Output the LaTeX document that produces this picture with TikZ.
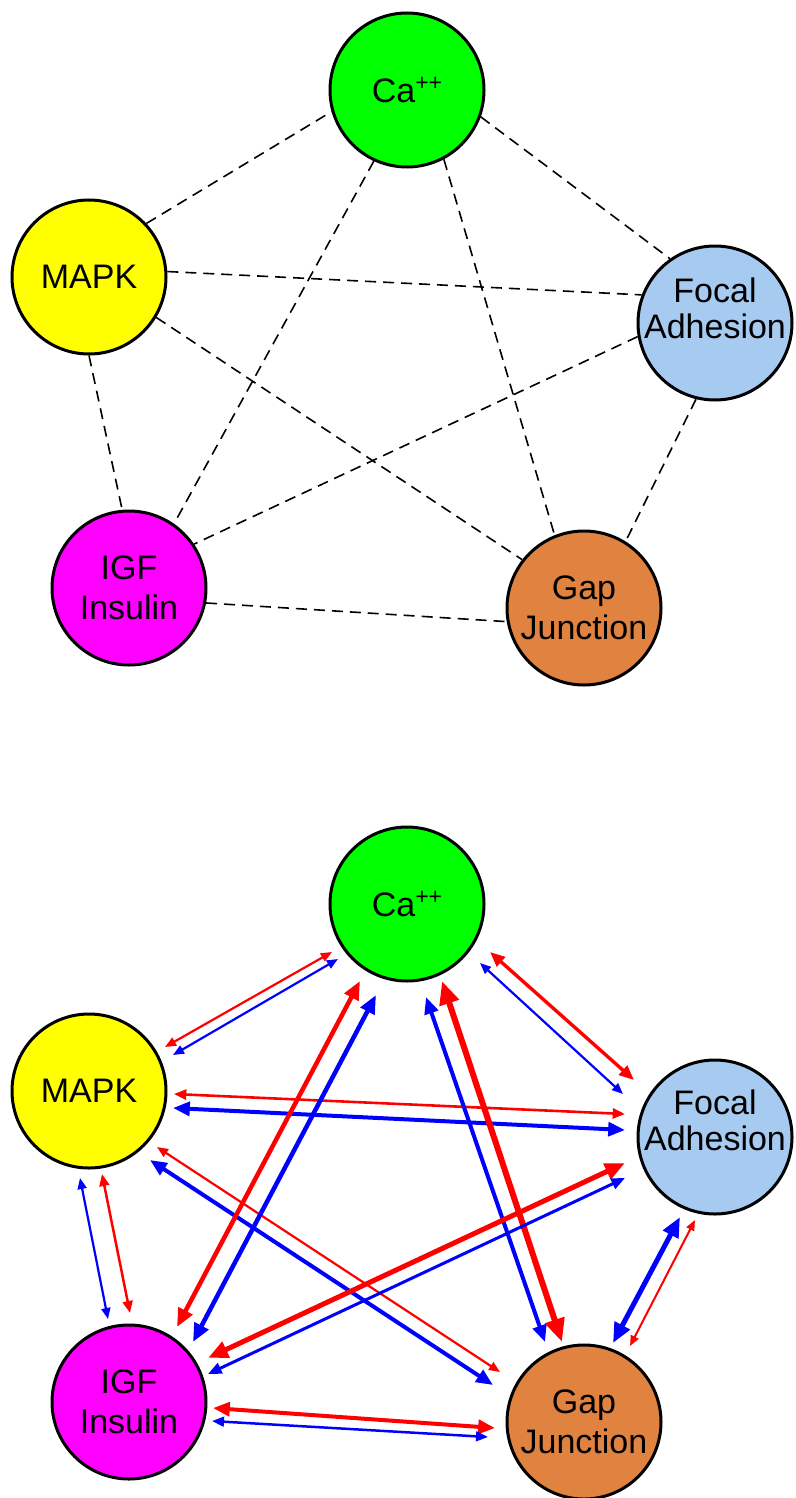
\documentclass[tikz,border=0pt]{standalone}
\usepackage{fontspec}
\setmainfont{Liberation Sans}
\usetikzlibrary{arrows.meta}
\definecolor{cagreen}{RGB}{0,255,0}
\definecolor{mapkyellow}{RGB}{255,255,0}
\definecolor{focalblue}{RGB}{166,202,240}
\definecolor{igfmag}{RGB}{255,0,255}
\definecolor{gaporange}{RGB}{224,130,64}
\definecolor{arrred}{RGB}{255,0,0}
\definecolor{arrblue}{RGB}{0,0,255}
\begin{document}
\begin{tikzpicture}[x=1pt,y=1pt,
  circ/.style={circle, draw=black, line width=3pt, minimum size=154pt, inner sep=0pt,
    align=center, font=\fontsize{34}{40}\selectfont},
  lbl/.style={align=center, inner sep=0pt, font=\fontsize{34}{36}\selectfont},
  dashedge/.style={draw=black, line width=1.6pt, dash pattern=on 11pt off 7pt},
  biarrow/.style={line width=#1,
    {Triangle[length=4pt 3.2, width=3pt 2.7]}-{Triangle[length=4pt 3.2, width=3pt 2.7]}},
  redarr/.style={biarrow=#1, draw=arrred, fill=arrred},
  bluearr/.style={biarrow=#1, draw=arrblue, fill=arrblue}
]
\fill[white] (0,0) rectangle (795,-1498);
\useasboundingbox (0,0) rectangle (795,-1498);

% ---------- top diagram ----------
\node[circ, fill=cagreen] (ca) at (407,-90) {Ca\raisebox{12pt}{\fontsize{23}{23}\selectfont ++}};
\node[circ, fill=mapkyellow] (mapk) at (89,-277) {MAPK};
\node[circ, fill=focalblue] (fa) at (715,-323) {};
\node[lbl] (fatext) at ([yshift=15pt]fa.center) {Focal\\Adhesion};
\node[circ, fill=igfmag] (igf) at (129,-588) {IGF\\Insulin};
\node[circ, fill=gaporange] (gap) at (584,-608) {Gap\\Junction};

\draw[dashedge] (mapk.43) -- (ca.196);
\draw[dashedge] (ca.340) -- (fa.125);
\draw[dashedge] (mapk.4) -- (fa.159);
\draw[dashedge] (mapk.329) -- (gap.142);
\draw[dashedge] (mapk.270) -- (igf.95);
\draw[dashedge] (ca.245) -- (igf.55);
\draw[dashedge] (ca.298) -- (gap.112);
\draw[dashedge] (fa.190) -- (igf.34);
\draw[dashedge] (fa.256) -- (gap.58);
\draw[dashedge] (igf.349) -- (gap.190);

% ---------- bottom diagram ----------
\node[circ, fill=cagreen] (ca2) at (407,-904) {Ca\raisebox{12pt}{\fontsize{23}{23}\selectfont ++}};
\node[circ, fill=mapkyellow] (mapk2) at (89,-1091) {MAPK};
\node[circ, fill=focalblue] (fa2) at (715,-1137) {};
\node[lbl] (fa2text) at ([yshift=17pt]fa2.center) {Focal\\Adhesion};
\node[circ, fill=igfmag] (igf2) at (129,-1402) {IGF\\Insulin};
\node[circ, fill=gaporange] (gap2) at (584,-1422) {Gap\\Junction};

% Ca -- MAPK
\draw[redarr=2.2pt] ([shift={(76,44)}]mapk2.center) -- ([shift={(-75,-48)}]ca2.center);
\draw[bluearr=2.2pt] ([shift={(84,36)}]mapk2.center) -- ([shift={(-69,-55)}]ca2.center);
% Ca -- Focal
\draw[redarr=3.4pt] ([shift={(83,-48)}]ca2.center) -- ([shift={(-81,57)}]fa2.center);
\draw[bluearr=2.2pt] ([shift={(73,-59)}]ca2.center) -- ([shift={(-92,43)}]fa2.center);
% MAPK -- Focal
\draw[redarr=2.6pt] ([shift={(85,-3)}]mapk2.center) -- ([shift={(-90,23)}]fa2.center);
\draw[bluearr=4pt] ([shift={(84,-17)}]mapk2.center) -- ([shift={(-90,7)}]fa2.center);
% MAPK -- Gap
\draw[redarr=2.2pt] ([shift={(68,-56)}]mapk2.center) -- ([shift={(-84,50)}]gap2.center);
\draw[bluearr=4pt] ([shift={(61,-69)}]mapk2.center) -- ([shift={(-91,37)}]gap2.center);
% MAPK -- IGF
\draw[bluearr=2.2pt] ([shift={(-9,-87)}]mapk2.center) -- ([shift={(-21,83)}]igf2.center);
\draw[redarr=2.5pt] ([shift={(13,-83)}]mapk2.center) -- ([shift={(1,89)}]igf2.center);
% Ca -- IGF
\draw[redarr=4.5pt] ([shift={(-47,-77)}]ca2.center) -- ([shift={(48,75)}]igf2.center);
\draw[bluearr=4.5pt] ([shift={(-31,-91)}]ca2.center) -- ([shift={(64,60)}]igf2.center);
% Ca -- Gap
\draw[bluearr=4pt] ([shift={(19,-93)}]ca2.center) -- ([shift={(-39,80)}]gap2.center);
\draw[redarr=6pt] ([shift={(35,-77)}]ca2.center) -- ([shift={(-22,80)}]gap2.center);
% Focal -- IGF
\draw[redarr=5pt] ([shift={(-90,-26)}]fa2.center) -- ([shift={(79,44)}]igf2.center);
\draw[bluearr=3pt] ([shift={(-90,-41)}]fa2.center) -- ([shift={(79,28)}]igf2.center);
% Focal -- Gap
\draw[bluearr=5pt] ([shift={(-35,-80)}]fa2.center) -- ([shift={(29,79)}]gap2.center);
\draw[redarr=2pt] ([shift={(-20,-83)}]fa2.center) -- ([shift={(46,76)}]gap2.center);
% IGF -- Gap
\draw[redarr=4pt] ([shift={(84,-6)}]igf2.center) -- ([shift={(-89,-6)}]gap2.center);
\draw[bluearr=2.5pt] ([shift={(83,-19)}]igf2.center) -- ([shift={(-96,-15)}]gap2.center);
\end{tikzpicture}
\end{document}
